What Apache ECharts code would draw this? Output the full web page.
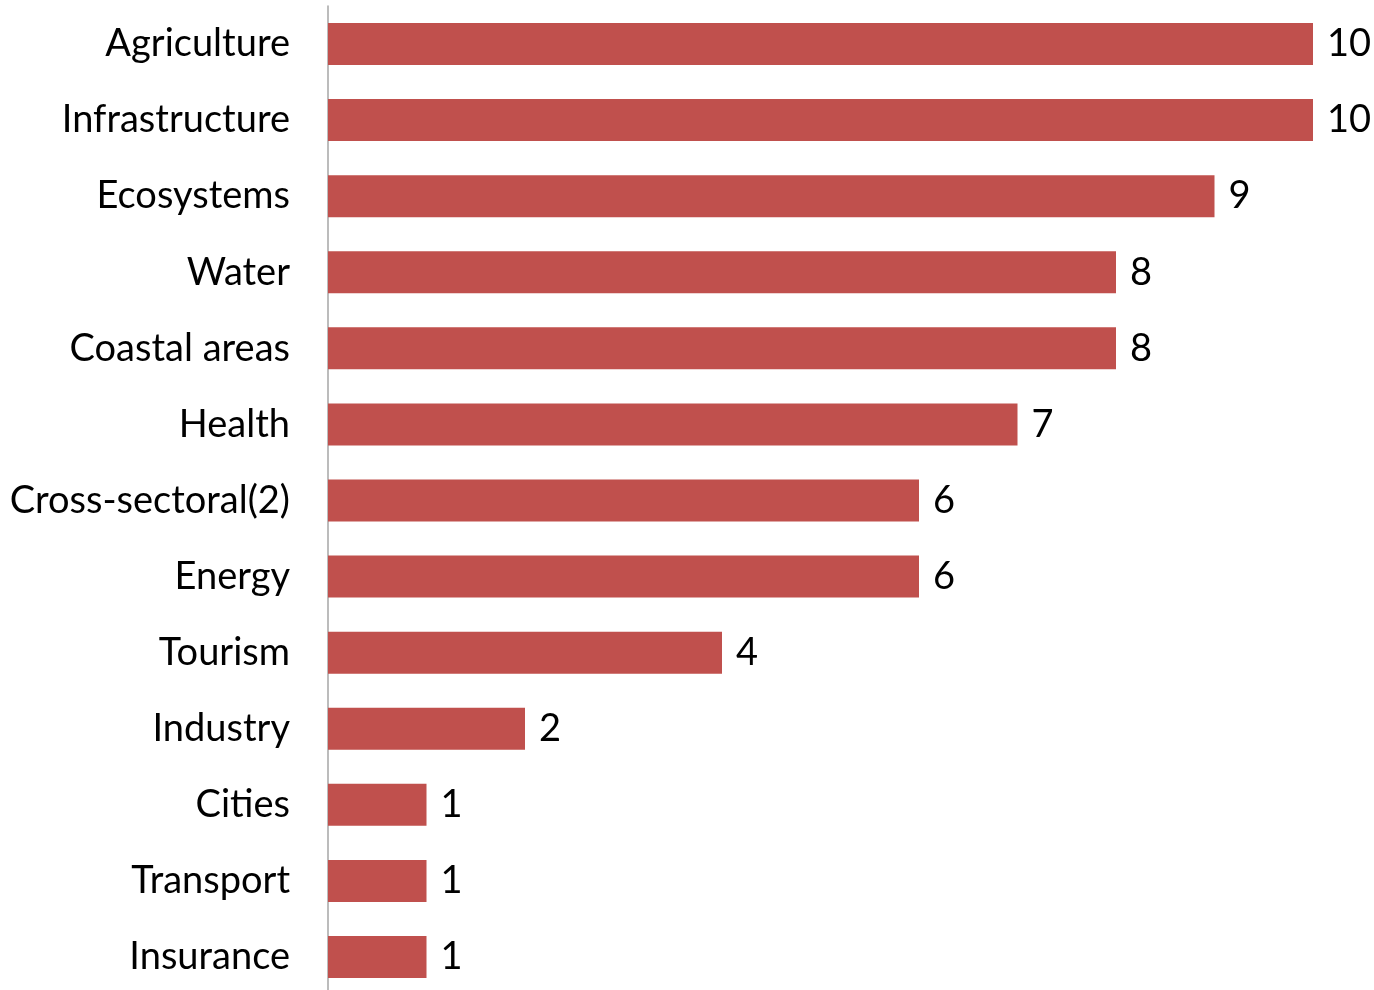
<!DOCTYPE html>
<html>
<head>
<meta charset="utf-8">
<script src="https://cdn.jsdelivr.net/npm/echarts@6/dist/echarts.min.js"></script>
<style>
  html, body { margin: 0; padding: 0; background: #fff; }
  #chart { width: 1374px; height: 990px; }
</style>
</head>
<body>
<div id="chart"></div>
<script>
// sectors, top to bottom
var sectors = ['Agriculture', 'Infrastructure', 'Ecosystems', 'Water', 'Coastal areas', 'Health',
  'Cross-sectoral(2)', 'Energy', 'Tourism', 'Industry', 'Cities', 'Transport', 'Insurance'];
var counts = [10, 10, 9, 8, 8, 7, 6, 6, 4, 2, 1, 1, 1];

var fontName = 'Lato';

var myChart = echarts.init(document.getElementById('chart'));
myChart.setOption({
  animation: false,
  grid: { left: 328, top: 6, width: 985, height: 989, outerBoundsMode: 'none' },
  xAxis: {
    type: 'value',
    min: 0,
    max: 10,
    show: false
  },
  yAxis: {
    type: 'category',
    data: sectors,
    inverse: true,
    axisLine: { show: true, lineStyle: { color: '#a6a6a6', width: 1.5 } },
    axisTick: { show: false },
    axisLabel: {
      margin: 38,
      fontFamily: fontName,
      fontSize: 38,
      color: '#000'
    }
  },
  series: [{
    type: 'bar',
    data: counts,
    barWidth: 42,
    itemStyle: { color: '#c0504d' },
    label: {
      show: true,
      position: 'right',
      distance: 14,
      fontFamily: fontName,
      fontSize: 38,
      color: '#000'
    }
  }]
});
</script>
</body>
</html>
